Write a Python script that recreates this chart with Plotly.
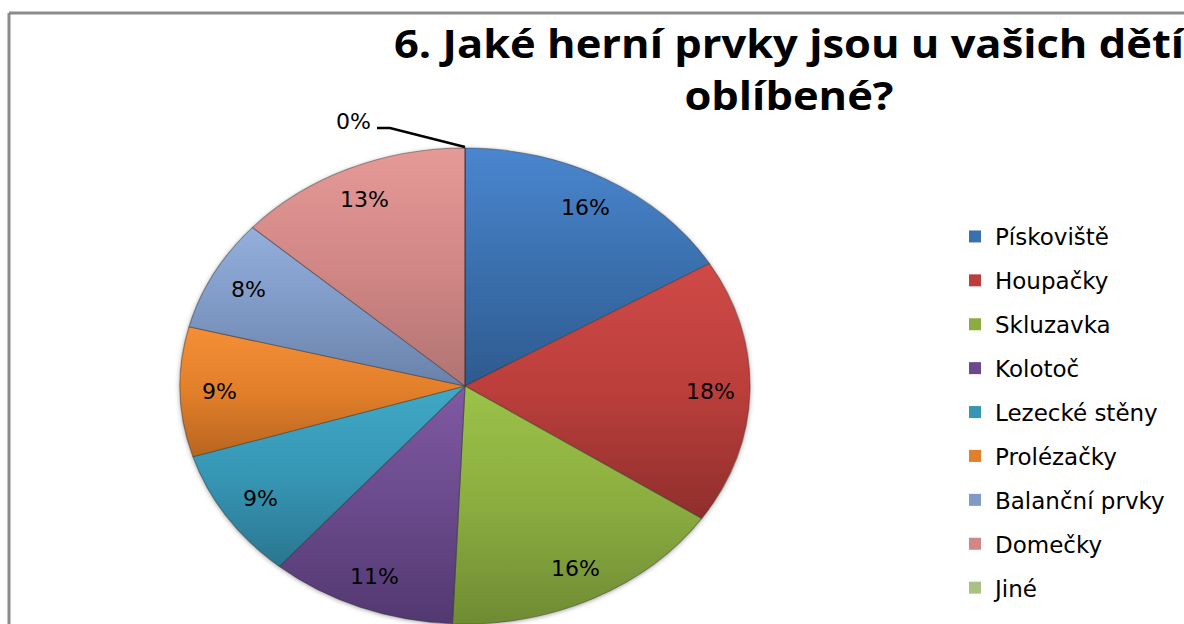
import math
import plotly.graph_objects as go

categories = ["Pískoviště", "Houpačky", "Skluzavka", "Kolotoč", "Lezecké stěny",
              "Prolézačky", "Balanční prvky", "Domečky", "Jiné"]
values = [16.4, 18.0, 16.3, 10.6, 8.9, 8.8, 7.6, 13.4, 0.0]
colors_top = ["#4a86cf", "#cf4a47", "#9cc248", "#8059a3", "#3fa9c6", "#f48f36", "#94afdc", "#e59a98", "#b9cf94"]
colors_mid = ["#3a70ae", "#bb3e3b", "#8bad40", "#6a4a8c", "#3696b4", "#e27f2a", "#7f9ac6", "#d18785", "#a9c284"]
colors_bot = ["#2f5a8f", "#8f2f2c", "#6f8b33", "#523870", "#2a7690", "#b8651f", "#6a82aa", "#b07472", "#8fa86e"]
title_lines = ["6. Jaké herní prvky jsou u vašich dětí", "oblíbené?"]

W, H = 1184, 624
CX, CY, RX, RY = 465, 386, 285, 238
LABEL_R = 0.86

total = sum(values)
labels_text = [f"{round(v / total * 100)}%" for v in values]

fig = go.Figure()
fig.add_trace(go.Pie(
    labels=categories, values=values, sort=False, direction="clockwise", rotation=0,
    marker=dict(colors=colors_mid, line=dict(color="rgba(50,50,50,0.45)", width=1)),
    textinfo="none", showlegend=False, automargin=False, hoverinfo="label+percent",
    domain=dict(x=[(CX - RY) / W, (CX + RY) / W], y=[0, (CY + RY - 148) / H]),
))
for name, c in zip(categories, colors_mid):
    fig.add_trace(go.Scatter(
        x=[None], y=[None], mode="markers", name=name, legendgroup=name,
        marker=dict(symbol="square", size=15, color=c),
    ))

label_font = dict(family="DejaVu Sans", size=22, color="#000000")
annotations = []
cum = 0.0
for v, t in zip(values, labels_text):
    if v > 0:
        ang = 2 * math.pi * (cum + v / 2) / total
        annotations.append(dict(
            text=t, xref="paper", yref="paper", xanchor="center", yanchor="middle",
            x=(CX + LABEL_R * RX * math.sin(ang)) / W,
            y=1 - (CY - LABEL_R * RY * math.cos(ang)) / H,
            showarrow=False, font=label_font))
    cum += v
annotations.append(dict(text=labels_text[-1], xref="paper", yref="paper", x=353 / W, y=1 - 122 / H,
                        xanchor="center", yanchor="middle", showarrow=False, font=label_font))

fig.update_layout(
    width=W, height=H, margin=dict(l=0, r=0, t=0, b=0),
    paper_bgcolor="white", plot_bgcolor="white",
    xaxis=dict(visible=False), yaxis=dict(visible=False),
    legend=dict(x=955 / W, y=1 - 215 / H, xanchor="left", yanchor="top",
                font=dict(family="DejaVu Sans", size=23, color="#000000"),
                tracegroupgap=11, itemsizing="constant", itemwidth=30,
                bgcolor="rgba(0,0,0,0)"),
    title=dict(text="<b>" + "<br>".join(title_lines) + "</b>", x=789 / W, xanchor="center",
               y=1 - 58 / H, yanchor="middle", xref="paper", yref="paper",
               font=dict(family="Open Sans", size=40, color="#000000")),
    shapes=[
        dict(type="line", xref="paper", yref="paper", x0=9 / W, x1=1, y0=1 - 13 / H, y1=1 - 13 / H,
             line=dict(color="#8c8c8c", width=3)),
        dict(type="line", xref="paper", yref="paper", x0=9 / W, x1=9 / W, y0=1 - 13 / H, y1=0,
             line=dict(color="#8c8c8c", width=3)),
        dict(type="path", xref="paper", yref="paper",
             path=f"M {377/W} {1-128/H} L {390/W} {1-128/H} L {CX/W} {1-147/H}",
             line=dict(color="#000000", width=2.5)),
    ],
    annotations=annotations,
)

post = """
(function(){
  document.body.style.margin='0';
  var gd = document.getElementById('{plot_id}');
  var top = %s, mid = %s, bot = %s;
  var sx = %s, cx = %s, tx = 789, tsx = 1.087;
  function style(){
    var layer = gd.querySelector('.pielayer');
    if(!layer) return;
    layer.setAttribute('transform','translate('+cx+',0) scale('+sx+',1) translate('+(-cx)+',0)');
    layer.style.filter='drop-shadow(0 1px 2px rgba(0,0,0,0.35))';
    var t = gd.querySelector('.g-gtitle');
    if(t) t.setAttribute('transform','translate('+tx+',0) scale('+tsx+',1) translate('+(-tx)+',0)');
    var svg = gd.querySelector('svg.main-svg');
    var defs = svg.querySelector('defs');
    layer.querySelectorAll('g.slice path.surface').forEach(function(p,i){
      var id='slicegrad'+i;
      if(!document.getElementById(id)){
        var NS='http://www.w3.org/2000/svg';
        var g=document.createElementNS(NS,'linearGradient');
        g.setAttribute('id',id); g.setAttribute('x1','0'); g.setAttribute('y1','0');
        g.setAttribute('x2','0'); g.setAttribute('y2','1');
        [[0,top[i]],[0.5,mid[i]],[1,bot[i]]].forEach(function(s){
          var st=document.createElementNS(NS,'stop');
          st.setAttribute('offset',s[0]); st.setAttribute('stop-color',s[1]); g.appendChild(st);
        });
        defs.appendChild(g);
      }
      p.style.fill='url(#'+id+')';
    });
  }
  style();
  if(gd.on) gd.on('plotly_afterplot', style);
  setTimeout(style,100);
})();
""" % (colors_top, colors_mid, colors_bot, RX / RY, CX)

fig.write_html("out.html", post_script=post, config=dict(displayModeBar=False))
